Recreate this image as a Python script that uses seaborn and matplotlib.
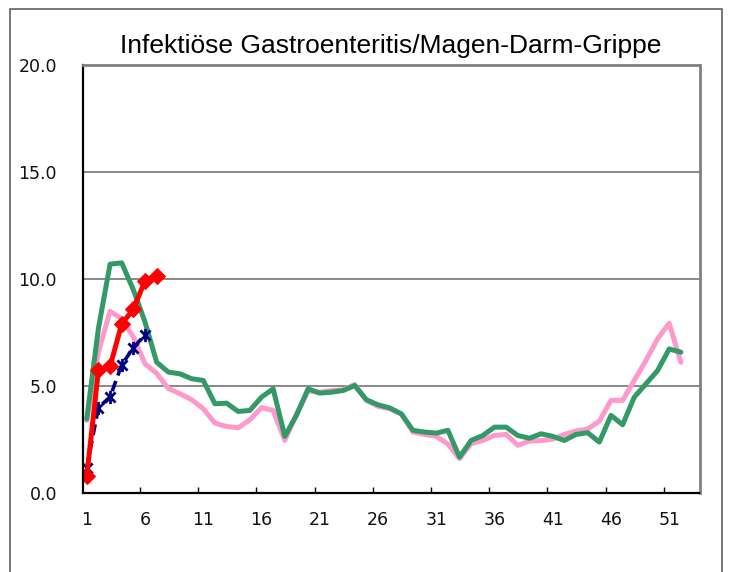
import numpy as np
import pandas as pd
import matplotlib
matplotlib.use("Agg")
import matplotlib.pyplot as plt
from matplotlib.path import Path
from matplotlib.patches import Rectangle
from matplotlib.ticker import FixedLocator, FuncFormatter
import seaborn as sns

# ---- data ----
weeks = list(range(1, 53))
pink_values = [3.4, 6.6, 8.5, 8.15, 7.3, 6.05, 5.6, 4.9, 4.65, 4.37,
               3.95, 3.28, 3.12, 3.06, 3.43, 4.0, 3.87, 2.47, 3.71, 4.77,
               4.72, 4.8, 4.83, 5.08, 4.34, 4.06, 3.95, 3.71, 2.86, 2.75,
               2.66, 2.3, 1.62, 2.32, 2.47, 2.70, 2.75, 2.24, 2.44, 2.46,
               2.53, 2.75, 2.91, 3.0, 3.37, 4.34, 4.34, 5.27, 6.2, 7.21,
               7.94, 6.12]
green_values = [3.48, 7.7, 10.7, 10.76, 9.5, 8.0, 6.12, 5.66, 5.58, 5.35,
                5.27, 4.18, 4.21, 3.82, 3.87, 4.49, 4.88, 2.66, 3.64, 4.88,
                4.68, 4.72, 4.8, 5.03, 4.37, 4.13, 3.99, 3.71, 2.94, 2.86,
                2.81, 2.94, 1.69, 2.47, 2.70, 3.09, 3.09, 2.70, 2.57, 2.78,
                2.66, 2.47, 2.75, 2.83, 2.39, 3.64, 3.2, 4.49, 5.11, 5.73,
                6.74, 6.59]
red_weeks = [1, 2, 3, 4, 5, 6, 7]
red_values = [0.8, 5.75, 5.93, 7.91, 8.59, 9.93, 10.16]
navy_weeks = [1, 2, 3, 4, 5, 6]
navy_values = [1.2, 4.0, 4.5, 6.0, 6.8, 7.4]
xtick_labels = [1, 6, 11, 16, 21, 26, 31, 36, 41, 46, 51]
ytick_values = [0, 5, 10, 15, 20]
title = "Infektiöse Gastroenteritis/Magen-Darm-Grippe"

sns.set_style("white")
plt.rcParams['font.family'] = ['DejaVu Sans']
plt.rcParams['xtick.direction'] = 'in'
plt.rcParams['xtick.bottom'] = True

fig = plt.figure(figsize=(7.3, 5.72), dpi=100)
ax = fig.add_axes([82.7 / 730, 1 - 493.3 / 572, (699.5 - 82.7) / 730, (493.3 - 65) / 572])

df_main = pd.DataFrame({"week": weeks, "pink": pink_values, "green": green_values})
df_red = pd.DataFrame({"week": red_weeks, "val": red_values})
df_navy = pd.DataFrame({"week": navy_weeks, "val": navy_values})

star = Path([(-1, -1), (1, 1), (-1, 1), (1, -1), (0, -1.3), (0, 1.3)],
            [Path.MOVETO, Path.LINETO, Path.MOVETO, Path.LINETO, Path.MOVETO, Path.LINETO])

sns.lineplot(data=df_main, x="week", y="pink", ax=ax, color="#FF99CC", lw=3.6, zorder=3)
sns.lineplot(data=df_main, x="week", y="green", ax=ax, color="#339966", lw=3.6, zorder=4)
sns.lineplot(data=df_navy, x="week", y="val", ax=ax, color="#000080", lw=2.6,
             linestyle=(0, (3, 1.6)), marker=star, markersize=9.5, markeredgewidth=2,
             markeredgecolor="#000080", zorder=5)
sns.lineplot(data=df_red, x="week", y="val", ax=ax, color="#FF0000", lw=3.6,
             marker="D", markersize=8.5, markeredgecolor="#FF0000", zorder=6)

ax.set_xlim(0.65, 53.6)
ax.set_ylim(0, 20)
ax.set_xlabel("")
ax.set_ylabel("")

# y axis
ax.yaxis.set_major_locator(FixedLocator(ytick_values))
ax.yaxis.set_major_formatter(FuncFormatter(lambda v, p: f"{v:.1f}"))
ax.tick_params(axis="y", which="major", length=0, pad=18.5, labelsize=12.5, labelcolor="#111111")
ax.grid(axis="y", color="#808080", lw=1.3)
ax.grid(axis="x", visible=False)

# x axis
ax.xaxis.set_major_locator(FixedLocator(xtick_labels))
ax.xaxis.set_major_formatter(FuncFormatter(lambda v, p: f"{int(round(v))}"))
ax.xaxis.set_minor_locator(FixedLocator([5.55 + 5 * k for k in range(10)]))
ax.tick_params(axis="x", which="major", length=0, pad=13, labelsize=12.5, labelcolor="#111111")
ax.tick_params(axis="x", which="minor", direction="in", length=4.5, width=1,
               color="#000000", bottom=True, top=False)

for side in ["top", "right"]:
    ax.spines[side].set_color("#808080")
    ax.spines[side].set_linewidth(2)
for side in ["left", "bottom"]:
    ax.spines[side].set_color("#000000")
    ax.spines[side].set_linewidth(1.6)
for s in ax.spines.values():
    s.set_visible(True)
    s.set_zorder(7)

fig.text(391 / 730, 1 - 46 / 572, title, ha="center", va="center",
         fontsize=19, family=["Liberation Sans", "DejaVu Sans"], color="#000000")

# outer chart frame
fig.patches.append(Rectangle((10.3 / 730, -0.05), (721.7 - 10.3) / 730, 0.05 + 1 - 9 / 572,
                             transform=fig.transFigure, fill=False, edgecolor="#555555",
                             lw=1.1, zorder=0))

fig.savefig("out.png", dpi=100)
